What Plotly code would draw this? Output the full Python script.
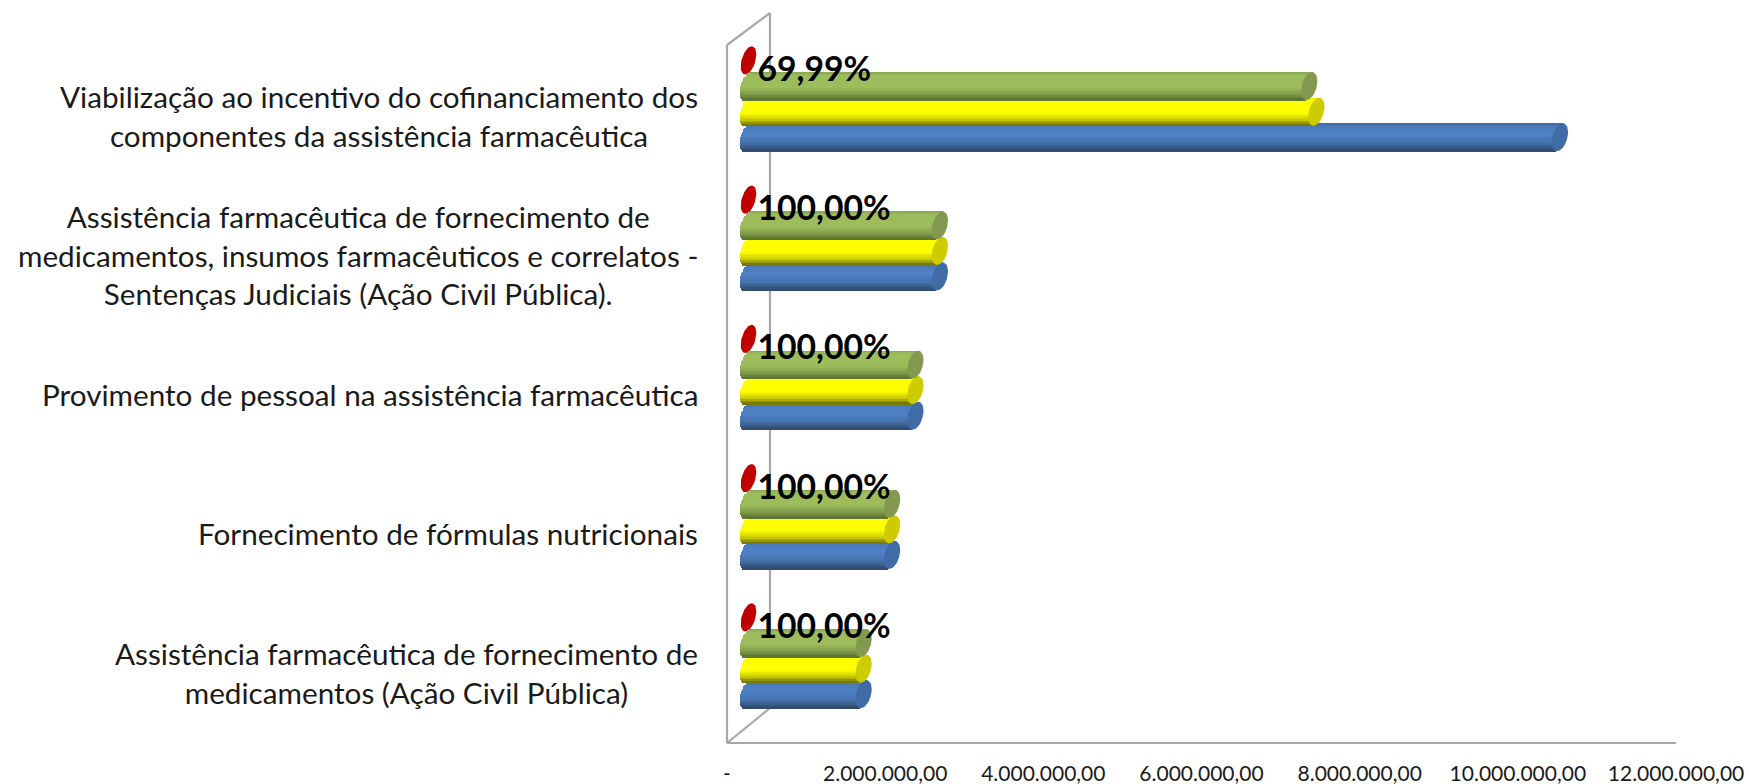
import math
import plotly.graph_objects as go

# ---------- data (top group first) ----------
categories = [
    "Viabilização ao incentivo do cofinanciamento dos<br>componentes da assistência farmacêutica",
    "Assistência farmacêutica de fornecimento de<br>medicamentos, insumos farmacêuticos e correlatos -<br>Sentenças Judiciais (Ação Civil Pública).",
    "Provimento de pessoal na assistência farmacêutica",
    "Fornecimento de fórmulas nutricionais",
    "Assistência farmacêutica de fornecimento de<br>medicamentos (Ação Civil Pública)",
]
blue_values = [10260000, 2420000, 2110000, 1815000, 1455000]
yellow_values = [7180000, 2420000, 2110000, 1815000, 1455000]
green_values = [7090000, 2420000, 2110000, 1815000, 1455000]
red_values = [0.6999, 1, 1, 1, 1]
percent_labels = ["69,99%", "100,00%", "100,00%", "100,00%", "100,00%"]
tick_values = [0, 2000000, 4000000, 6000000, 8000000, 10000000, 12000000]
tick_labels = ["-", "2.000.000,00", "4.000.000,00", "6.000.000,00",
               "8.000.000,00", "10.000.000,00", "12.000.000,00"]

# ---------- layout geometry (page pixels) ----------
W, H = 1749, 784
AX_L, AX_R, AX_B, AX_T = 727, 1676, 743, 10
X_MAX = 12000000
PX_PER_X = (AX_R - AX_L) / X_MAX
DEPTH_PX = 21.5
GROUP_PX = 139.25
SLOT_PX = 25.5
BOTTOM_CENTER_PX = 668.7
PX_PER_Y = GROUP_PX
y_low = -(AX_B - BOTTOM_CENTER_PX) / PX_PER_Y
y_high = (BOTTOM_CENTER_PX - AX_T) / PX_PER_Y
CYL_H = 28.0
N = 18
FONT = "Lato"
WALL = "#A8A8A8"


def hex_rgb(c):
    return tuple(int(c[i:i + 2], 16) for i in (1, 3, 5))


def ramp(stops, s):
    for (a, ca), (b, cb) in zip(stops, stops[1:]):
        if s <= b:
            f = (s - a) / (b - a)
            ra, rb = hex_rgb(ca), hex_rgb(cb)
            return "rgb(%d,%d,%d)" % tuple(round(u + (v - u) * f) for u, v in zip(ra, rb))
    return stops[-1][1]


series = [
    dict(values=blue_values, slot=-1, cap="#3F6CA6",
         stops=[(0, "#3E68A0"), (0.12, "#4A7AB8"), (0.4, "#4F81C6"), (0.7, "#4674AE"), (1, "#30486A")]),
    dict(values=yellow_values, slot=0, cap="#CCCC00",
         stops=[(0, "#E6E600"), (0.1, "#FFFF00"), (0.55, "#FFFF00"), (0.8, "#C8C800"), (1, "#6E6E00")]),
    dict(values=green_values, slot=1, cap="#83994F",
         stops=[(0, "#8AA352"), (0.12, "#9DBD5C"), (0.55, "#9DBD5C"), (0.8, "#7F9A49"), (1, "#58702F")]),
]
group_pos = [len(categories) - 1 - i for i in range(len(categories))]

fig = go.Figure()

# invisible trace so the labelled value axis is drawn
fig.add_trace(go.Scatter(x=tick_values, y=[y_low] * len(tick_values), mode="lines",
                         line=dict(width=0), hoverinfo="skip", showlegend=False))


def ellipse(cx_value, cy, a=7.4, b=14.4, tilt=16):
    phi = math.radians(tilt)
    xs, ys = [], []
    for k in range(49):
        t = 2 * math.pi * k / 48
        u, v = a * math.cos(t), b * math.sin(t)
        dx = u * math.cos(phi) + v * math.sin(phi)
        dy = -u * math.sin(phi) + v * math.cos(phi)
        xs.append(cx_value + dx / PX_PER_X)
        ys.append(cy + dy / PX_PER_Y)
    return xs, ys


for s in series:
    xs, ys, bases, colors, widths = [], [], [], [], []
    slot_y = s["slot"] * SLOT_PX / PX_PER_Y
    for k in range(N):
        frac = (k + 0.5) / N            # 0 = top edge, 1 = bottom edge
        t = 1 - 2 * frac                # +1 top ... -1 bottom
        off_px = t * CYL_H / 2
        lean = t * 3.8
        round_px = 8 * math.sqrt(max(0, 1 - t * t))
        for g, v in zip(group_pos, s["values"]):
            start = (lean - round_px) / PX_PER_X
            end = v + lean / PX_PER_X
            xs.append(end - start)
            bases.append(start)
            ys.append(g + slot_y + off_px / PX_PER_Y)
            colors.append(ramp(s["stops"], frac))
            widths.append(CYL_H / N * 1.2 / PX_PER_Y)
    fig.add_trace(go.Bar(x=xs, y=ys, base=bases, width=widths, orientation="h",
                         marker=dict(color=colors, line=dict(width=0)),
                         xaxis="x2", yaxis="y", hoverinfo="skip", showlegend=False))

for s in series:
    slot_y = s["slot"] * SLOT_PX / PX_PER_Y
    for g, v in zip(group_pos, s["values"]):
        ex, ey = ellipse(v, g + slot_y)
        fig.add_trace(go.Scatter(x=ex, y=ey, mode="lines", fill="toself", fillcolor=s["cap"],
                                 line=dict(width=0), xaxis="x2", yaxis="y",
                                 hoverinfo="skip", showlegend=False))

red_y = [g + 2 * SLOT_PX / PX_PER_Y + 0.3 / PX_PER_Y for g in group_pos]
for v, y in zip(red_values, red_y):
    ex, ey = ellipse(v, y, a=6.8, b=14.6, tilt=17)
    fig.add_trace(go.Scatter(x=ex, y=ey, mode="lines", fill="toself", fillcolor="#C00000",
                             line=dict(width=0), xaxis="x2", yaxis="y",
                             hoverinfo="skip", showlegend=False))

# percent labels: real text beginning just right of the red marker
LABEL_DX = 9 / PX_PER_X
fig.add_trace(go.Scatter(
    x=[v + LABEL_DX for v in red_values], y=[y - 12 / PX_PER_Y for y in red_y], mode="text",
    text=["<b>%s</b>" % p for p in percent_labels],
    textposition="middle right",
    textfont=dict(family=FONT, size=33.7, color="#000000"),
    xaxis="x2", yaxis="y", hoverinfo="skip", showlegend=False))


def px_x(p):
    return (p - AX_L) / (AX_R - AX_L)


def px_y(p):
    return (AX_B - p) / (AX_B - AX_T)


wall_segments = [
    ((727, 45), (727, 743)), ((727, 45), (770, 13)), ((770, 13), (770, 708)),
    ((727, 743), (770, 708)), ((727, 743), (1676, 743)),
]
shapes = [dict(type="line", xref="paper", yref="paper", layer="below",
               x0=px_x(a[0]), y0=px_y(a[1]), x1=px_x(b[0]), y1=px_y(b[1]),
               line=dict(color=WALL, width=2.2)) for a, b in wall_segments]

annotations = [dict(text=c, x=px_x(699.5), xref="paper", y=g - 4 / PX_PER_Y, yref="y",
                    xanchor="right", yanchor="middle", align="center", showarrow=False,
                    font=dict(family=FONT, size=29.7, color="#1a1a1a"))
               for c, g in zip(categories, group_pos)]

fig.update_layout(
    width=W, height=H, autosize=False, template=None,
    paper_bgcolor="white", plot_bgcolor="white",
    margin=dict(l=AX_L, r=W - AX_R, t=AX_T, b=H - AX_B, pad=0),
    barmode="overlay", bargap=0, showlegend=False,
    font=dict(family=FONT),
    xaxis=dict(range=[0, X_MAX], tickmode="array", tickvals=tick_values, ticktext=tick_labels,
               showgrid=False, zeroline=False, showline=False, ticks="outside", ticklen=12,
               tickcolor="rgba(0,0,0,0)", tickfont=dict(family=FONT, size=21, color="#1a1a1a")),
    xaxis2=dict(overlaying="x", range=[-DEPTH_PX / PX_PER_X, X_MAX - DEPTH_PX / PX_PER_X],
                visible=False, showgrid=False, zeroline=False),
    yaxis=dict(range=[y_low, y_high], visible=False, showgrid=False, zeroline=False),
    shapes=shapes, annotations=annotations,
)

# the page body's default margin would push the figure 8px off the window
fig.write_html("out.html", config=dict(displayModeBar=False),
               post_script="document.body.style.margin='0';")
